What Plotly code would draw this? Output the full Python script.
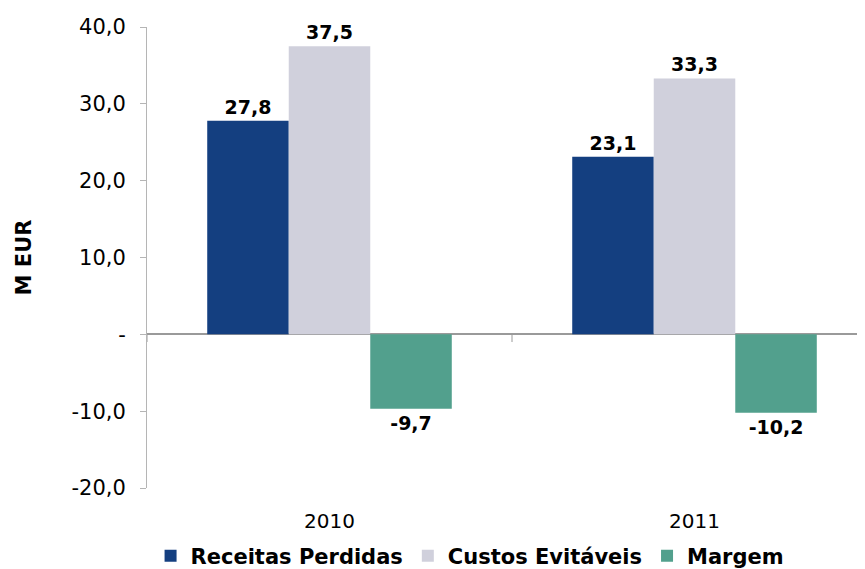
import plotly.graph_objects as go

categories = ["2010", "2011"]
receitas = [27.8, 23.1]
custos = [37.5, 33.3]
margem = [-9.7, -10.2]
series_names = ["Receitas Perdidas", "Custos Evitáveis", "Margem"]
colors = ["#143F80", "#D0D0DC", "#52A08D"]
ytick_vals = [-20, -10, 0, 10, 20, 30, 40]
ytick_text = ["-20,0", "-10,0", "-", "10,0", "20,0", "30,0", "40,0"]

FONT = "DejaVu Sans, Verdana, sans-serif"

fig = go.Figure()
for name, vals, col in zip(series_names, [receitas, custos, margem], colors):
    fig.add_trace(go.Bar(
        x=categories, y=vals, name="<b>" + name + "</b>",
        marker=dict(color=col, line=dict(width=0)),
        texttemplate="<b>%{y:.1f}</b>", textposition="outside", cliponaxis=False,
        textfont=dict(family=FONT, size=19, color="#000000"),
    ))

# category boundary tick marks on the zero line
for i in range(len(categories) + 1):
    fig.add_shape(type="line", xref="x", yref="y", x0=i - 0.5, x1=i - 0.5,
                  y0=0, y1=-1, line=dict(color="#9a9a9a", width=1))

fig.update_layout(
    width=865, height=569,
    margin=dict(l=139, r=0, t=19, b=89, autoexpand=False),
    paper_bgcolor="white", plot_bgcolor="white",
    separators=",.",
    barmode="group", bargap=0.33, bargroupgap=0,
    font=dict(family=FONT, size=20, color="#000000"),
    showlegend=True,
    legend=dict(orientation="h", x=0.445, xanchor="center", y=-0.1475, yanchor="middle",
                font=dict(family=FONT, size=21, color="#000000"),
                itemwidth=30, tracegroupgap=0),
)
fig.update_xaxes(
    range=[-0.5, 1.489], showline=False, showgrid=False, ticks="",
    tickfont=dict(family=FONT, size=20), zeroline=False, ticklabelstandoff=19,
)
fig.update_yaxes(
    range=[-20, 40], tickvals=ytick_vals, ticktext=ytick_text,
    showgrid=False, showline=True, linecolor="#b5b5b5", linewidth=1,
    ticks="outside", ticklen=6, tickcolor="#b5b5b5",
    zeroline=True, zerolinecolor="#9a9a9a", zerolinewidth=1.5,
    tickfont=dict(family=FONT, size=21), ticklabelstandoff=10,
    title=dict(text="<b>M EUR</b>", font=dict(family=FONT, size=21), standoff=34),
)

fig.write_html("out.html")
